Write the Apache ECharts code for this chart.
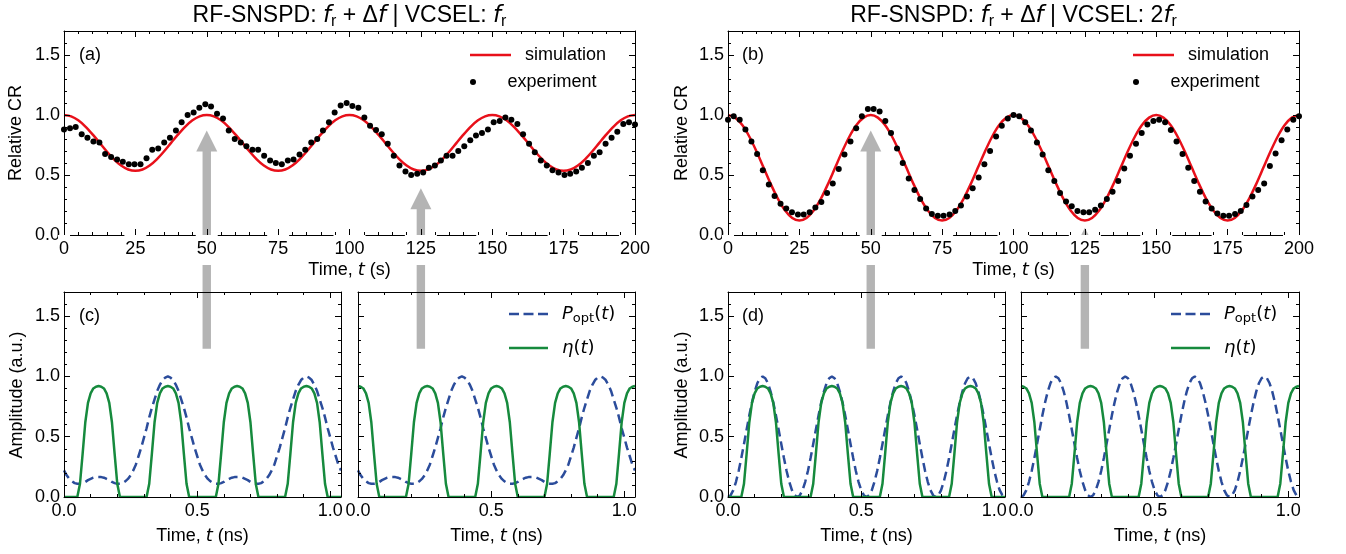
<!DOCTYPE html>
<html><head><meta charset="utf-8">
<script src="https://cdn.jsdelivr.net/npm/echarts@6/dist/echarts.min.js"></script>
<style>html,body{margin:0;padding:0;background:#fff}#c{width:1346px;height:554px}</style>
</head><body><div id="c"></div>
<script>
// ---------- DATA ----------
const simTime = [0,2.5,5,7.5,10,12.5,15,17.5,20,22.5,25,27.5,30,32.5,35,37.5,40,42.5,45,47.5,50,52.5,55,57.5,60,62.5,65,67.5,70,72.5,75,77.5,80,82.5,85,87.5,90,92.5,95,97.5,100,102.5,105,107.5,110,112.5,115,117.5,120,122.5,125,127.5,130,132.5,135,137.5,140,142.5,145,147.5,150,152.5,155,157.5,160,162.5,165,167.5,170,172.5,175,177.5,180,182.5,185,187.5,190,192.5,195,197.5,200];
const simA = [1.000,0.989,0.956,0.904,0.839,0.768,0.696,0.631,0.579,0.546,0.535,0.546,0.579,0.631,0.696,0.768,0.839,0.904,0.956,0.989,
1.000,0.989,0.956,0.904,0.839,0.768,0.696,0.631,0.579,0.546,0.535,0.546,0.579,0.631,0.696,0.768,0.839,0.904,0.956,0.989,
1.000,0.989,0.956,0.904,0.839,0.768,0.696,0.631,0.579,0.546,0.535,0.546,0.579,0.631,0.696,0.768,0.839,0.904,0.956,0.989,
1.000,0.989,0.956,0.904,0.839,0.768,0.696,0.631,0.579,0.546,0.535,0.546,0.579,0.631,0.696,0.768,0.839,0.904,0.956,0.989,1.000];
const simB = [1.000,0.978,0.916,0.819,0.696,0.560,0.424,0.301,0.204,0.142,0.120,0.142,0.204,0.301,0.424,0.560,0.696,0.819,0.916,0.978,
1.000,0.978,0.916,0.819,0.696,0.560,0.424,0.301,0.204,0.142,0.120,0.142,0.204,0.301,0.424,0.560,0.696,0.819,0.916,0.978,
1.000,0.978,0.916,0.819,0.696,0.560,0.424,0.301,0.204,0.142,0.120,0.142,0.204,0.301,0.424,0.560,0.696,0.819,0.916,0.978,
1.000,0.978,0.916,0.819,0.696,0.560,0.424,0.301,0.204,0.142,0.120,0.142,0.204,0.301,0.424,0.560,0.696,0.819,0.916,0.978,1.000];

const expTimeA = [0,2.1,4.1,6.2,8.2,10.3,12.4,14.4,16.5,18.6,20.6,22.7,24.7,26.8,28.9,30.9,33.0,35.1,37.1,39.2,41.2,43.3,45.4,47.4,49.5,51.5,53.6,55.7,57.7,59.8,61.9,63.9,66.0,68.0,70.1,72.2,74.2,76.3,78.4,80.4,82.5,84.5,86.6,88.7,90.7,92.8,94.8,96.9,99.0,101.0,103.1,105.2,107.2,109.3,111.3,113.4,115.5,117.5,119.6,121.6,123.7,125.8,127.8,129.9,132.0,134.0,136.1,138.1,140.2,142.3,144.3,146.4,148.5,150.5,152.6,154.6,156.7,158.8,160.8,162.9,164.9,167.0,169.1,171.1,173.2,175.3,177.3,179.4,181.4,183.5,185.6,187.6,189.7,191.8,193.8,195.9,197.9,200.0];
const expA = [0.88,0.89,0.90,0.84,0.81,0.78,0.77,0.675,0.65,0.63,0.61,0.59,0.59,0.59,0.64,0.71,0.72,0.77,0.81,0.87,
0.94,1.00,1.02,1.06,1.09,1.07,1.01,0.97,0.87,0.80,0.77,0.74,0.71,0.71,0.66,0.62,0.60,0.59,0.62,0.63,
0.67,0.71,0.77,0.80,0.87,0.94,1.02,1.08,1.10,1.075,1.06,0.98,0.91,0.875,
0.84,0.76,0.66,0.58,0.53,0.50,0.51,0.52,0.56,0.58,0.62,0.66,0.66,0.70,0.74,0.79,0.83,0.85,0.88,0.94,
0.95,0.98,0.96,0.925,0.84,0.76,0.69,0.62,0.58,0.54,0.52,0.50,0.51,0.53,0.56,0.60,0.66,0.69,0.76,0.81,
0.86,0.925,0.94,0.92];

const expTimeB = [0,2.0,4.1,6.1,8.2,10.2,12.2,14.3,16.3,18.4,20.4,22.4,24.5,26.5,28.6,30.6,32.7,34.7,36.7,38.8,40.8,42.9,44.9,46.9,49.0,51.0,53.1,55.1,57.1,59.2,61.2,63.3,65.3,67.3,69.4,71.4,73.5,75.5,77.6,79.6,81.6,83.7,85.7,87.8,89.8,91.8,93.9,95.9,98.0,100.0,102.0,104.1,106.1,108.2,110.2,112.2,114.3,116.3,118.4,120.4,122.4,124.5,126.5,128.6,130.6,132.7,134.7,136.7,138.8,140.8,142.9,144.9,146.9,149.0,151.0,153.1,155.1,157.1,159.2,161.2,163.3,165.3,167.3,169.4,171.4,173.5,175.5,177.6,179.6,181.6,183.7,185.7,187.8,189.8,191.8,193.9,195.9,198.0,200.0];
const expB = [0.96,0.99,0.96,0.88,0.78,0.675,0.54,0.42,0.325,0.26,0.22,0.19,0.17,0.17,0.19,0.23,0.275,0.35,0.43,0.55,
0.67,0.78,0.89,0.99,1.05,1.05,1.03,0.95,0.85,0.72,0.60,0.47,0.375,0.30,0.22,0.175,0.16,0.16,0.17,0.20,
0.245,0.32,0.39,0.48,0.59,0.70,0.82,0.91,0.97,1.00,0.99,0.94,
0.87,0.77,0.67,0.54,0.45,0.35,0.28,0.24,0.20,0.19,0.19,0.21,0.245,0.30,0.36,0.45,0.555,0.66,0.76,0.85,
0.92,0.95,0.96,0.94,0.875,0.78,0.675,0.56,0.45,0.36,0.28,0.22,0.18,0.16,0.16,0.175,0.20,0.25,0.32,0.375,
0.43,0.575,0.68,0.79,0.88,0.96,0.99];

const timeNs = [0,0.01,0.02,0.03,0.04,0.05,0.06,0.07,0.08,0.09,0.1,0.11,0.12,0.13,0.14,0.15,0.16,0.17,0.18,0.19,0.2,0.21,0.22,0.23,0.24,0.25,0.26,0.27,0.28,0.29,0.3,0.31,0.32,0.33,0.34,0.35,0.36,0.37,0.38,0.39,0.4,0.41,0.42,0.43,0.44,0.45,0.46,0.47,0.48,0.49,0.5,0.51,0.52,0.53,0.54,0.55,0.56,0.57,0.58,0.59,0.6,0.61,0.62,0.63,0.64,0.65,0.66,0.67,0.68,0.69,0.7,0.71,0.72,0.73,0.74,0.75,0.76,0.77,0.78,0.79,0.8,0.81,0.82,0.83,0.84,0.85,0.86,0.87,0.88,0.89,0.9,0.91,0.92,0.93,0.94,0.95,0.96,0.97,0.98,0.99,1,1.01,1.02,1.03,1.04];
// P_opt(t) with VCSEL at f_r (panel c)
const pOptC = [0.22,0.18,0.15,0.13,0.115,0.11,0.11,0.115,0.125,0.14,0.15,0.16,0.165,0.165,0.165,0.16,0.15,0.14,0.125,0.115,0.11,0.11,0.115,0.13,0.15,0.18,
0.22,0.27,0.34,0.41,0.49,0.57,0.66,0.74,0.81,0.88,0.93,0.97,0.99,1.0,0.99,0.97,0.93,0.88,0.81,0.74,0.66,0.57,0.49,0.41,0.34,0.27,
0.22,0.18,0.15,0.13,0.115,0.11,0.11,0.115,0.125,0.14,0.15,0.16,0.165,0.165,0.165,0.16,0.15,0.14,0.125,0.115,0.11,0.11,0.115,0.13,0.15,0.18,
0.22,0.27,0.34,0.41,0.49,0.57,0.66,0.74,0.81,0.88,0.93,0.97,0.99,1.0,0.99,0.97,0.93,0.88,0.81,0.74,0.66,0.57,0.49,0.41,0.34,0.27,0.22];
// P_opt(t) with VCSEL at 2 f_r (panel d)
const pOptD = [0,0.015,0.057,0.126,0.216,0.323,0.44,0.56,0.677,0.784,0.874,0.943,0.985,1.0,0.985,0.943,0.874,0.784,0.677,0.56,0.44,0.323,0.216,0.126,0.057,0.015,
0,0.015,0.057,0.126,0.216,0.323,0.44,0.56,0.677,0.784,0.874,0.943,0.985,1.0,0.985,0.943,0.874,0.784,0.677,0.56,0.44,0.323,0.216,0.126,0.057,0.015,
0,0.015,0.057,0.126,0.216,0.323,0.44,0.56,0.677,0.784,0.874,0.943,0.985,1.0,0.985,0.943,0.874,0.784,0.677,0.56,0.44,0.323,0.216,0.126,0.057,0.015,
0,0.015,0.057,0.126,0.216,0.323,0.44,0.56,0.677,0.784,0.874,0.943,0.985,1.0,0.985,0.943,0.874,0.784,0.677,0.56,0.44,0.323,0.216,0.126,0.057,0.015,0];
// eta(t), left sub-panels
const etaLeft = [0,0,0,0,0,0,0.11,0.36,0.62,0.78,0.86,0.90,0.915,0.92,0.915,0.90,0.86,0.78,0.62,0.36,0.11,0,0,0,0,0,
0,0,0,0,0,0,0.11,0.36,0.62,0.78,0.86,0.90,0.915,0.92,0.915,0.90,0.86,0.78,0.62,0.36,0.11,0,0,0,0,0,
0,0,0,0,0,0,0.11,0.36,0.62,0.78,0.86,0.90,0.915,0.92,0.915,0.90,0.86,0.78,0.62,0.36,0.11,0,0,0,0,0,
0,0,0,0,0,0,0.11,0.36,0.62,0.78,0.86,0.90,0.915,0.92,0.915,0.90,0.86,0.78,0.62,0.36,0.11,0,0,0,0,0,0];
// eta(t), right sub-panels
const etaRight = [0.92,0.915,0.90,0.86,0.78,0.62,0.36,0.11,0,0,0,0,0,0,0,0,0,0,0,0.11,0.36,0.62,0.78,0.86,0.90,0.915,
0.92,0.915,0.90,0.86,0.78,0.62,0.36,0.11,0,0,0,0,0,0,0,0,0,0,0,0.11,0.36,0.62,0.78,0.86,0.90,0.915,
0.92,0.915,0.90,0.86,0.78,0.62,0.36,0.11,0,0,0,0,0,0,0,0,0,0,0,0.11,0.36,0.62,0.78,0.86,0.90,0.915,
0.92,0.915,0.90,0.86,0.78,0.62,0.36,0.11,0,0,0,0,0,0,0,0,0,0,0,0.11,0.36,0.62,0.78,0.86,0.90,0.915,0.92];

// arrows (data coordinates)
const arrowTimes = [50, 125];
const arrowTipA = [0.87, 0.39];
const arrowTipB = [0.87, 0.06];
const arrowTailAmp = 1.23;

// ---------- STYLE ----------
const FONT = '"Liberation Sans", Arial, sans-serif';
const MATH = '"DejaVu Sans", sans-serif';
const RED = '#e8101a', BLUE = '#2b4c9b', GREEN = '#168a3d', ARROW = '#b4b4b4';

const grids = [
  {left:64, top:31, width:571, height:204},
  {left:728, top:31, width:571, height:204},
  {left:64, top:292, width:277, height:205},
  {left:358, top:292, width:277, height:205},
  {left:728, top:292, width:277, height:205},
  {left:1021, top:292, width:278, height:205}
];
const half = v => Math.abs(v * 2 - Math.round(v * 2)) < 1e-6 ? v.toFixed(1) : '';
const quarter = v => (Math.abs(v / 25 - Math.round(v / 25)) < 1e-6 ? String(Math.round(v)) : '');

const xAxes = [], yAxes = [];
function addAxes(gi, xs, ys) {
  const xi = xAxes.length, yi = yAxes.length;
  ['bottom', 'top'].forEach(pos => {
    const lbl = {show: pos === 'bottom', margin: 5, color: '#000', fontSize: 18, fontFamily: FONT, formatter: xs.fmt};
    if (xs.bg) { lbl.margin = 0; lbl.backgroundColor = '#fff'; lbl.padding = [5, 1, 7, 1]; }
    xAxes.push({gridIndex: gi, type: 'value', position: pos, min: xs.min, max: xs.max, interval: xs.major, z: 10,
      axisLine: {show: true, onZero: false, lineStyle: {color: '#000', width: 1}},
      axisTick: {show: true, inside: true, length: 6, lineStyle: {color: '#000', width: 1}},
      axisLabel: lbl, splitLine: {show: false}});
    xAxes.push({gridIndex: gi, type: 'value', position: pos, min: xs.min, max: xs.max, interval: xs.minor, z: 10,
      axisLine: {show: false, onZero: false},
      axisTick: {show: true, inside: true, length: 3, lineStyle: {color: '#000', width: 1}},
      axisLabel: {show: false}, splitLine: {show: false}});
  });
  ['left', 'right'].forEach(pos => {
    yAxes.push({gridIndex: gi, type: 'value', position: pos, min: ys.min, max: ys.max, interval: ys.major, z: 10,
      axisLine: {show: true, onZero: false, lineStyle: {color: '#000', width: 1}},
      axisTick: {show: true, inside: true, length: 6, lineStyle: {color: '#000', width: 1}},
      axisLabel: {show: pos === 'left' && ys.labels, margin: 4, color: '#000', fontSize: 18, fontFamily: FONT, formatter: half},
      splitLine: {show: false}});
    yAxes.push({gridIndex: gi, type: 'value', position: pos, min: ys.min, max: ys.max, interval: ys.minor, z: 10,
      axisLine: {show: false, onZero: false},
      axisTick: {show: true, inside: true, length: 3, lineStyle: {color: '#000', width: 1}},
      axisLabel: {show: false}, splitLine: {show: false}});
  });
  return {x: xi, y: yi};
}
const xsTop = {min: 0, max: 200, major: 25, minor: 5, fmt: quarter, bg: true};
const xsBot = {min: 0, max: 1.04, major: 0.5, minor: 0.1, fmt: half};
const ysAll = {min: 0, max: 1.7, major: 0.5, minor: 0.1, labels: true};
const ysNo = {min: 0, max: 1.7, major: 0.5, minor: 0.1, labels: false};
const AX = [
  addAxes(0, xsTop, ysAll), addAxes(1, xsTop, ysAll),
  addAxes(2, xsBot, ysAll), addAxes(3, xsBot, ysNo),
  addAxes(4, xsBot, ysAll), addAxes(5, xsBot, ysNo)
];
const pair = (xs, ys) => xs.map((t, i) => [t, ys[i]]);

const series = [];
[[0, simA, expTimeA, expA], [1, simB, expTimeB, expB]].forEach(([g, sim, et, ev]) => {
  series.push({type: 'line', name: 'simulation', xAxisIndex: AX[g].x, yAxisIndex: AX[g].y,
    data: pair(simTime, sim), symbol: 'none', smooth: 0.3, lineStyle: {color: RED, width: 2.5}, itemStyle: {color: RED}, z: 2});
  series.push({type: 'scatter', name: 'experiment', xAxisIndex: AX[g].x, yAxisIndex: AX[g].y,
    data: pair(et, ev), symbol: 'circle', symbolSize: 6, itemStyle: {color: '#000', opacity: 1}, z: 3});
});
[[2, pOptC, etaLeft], [3, pOptC, etaRight], [4, pOptD, etaLeft], [5, pOptD, etaRight]].forEach(([g, p, e]) => {
  series.push({type: 'line', name: 'P_opt', xAxisIndex: AX[g].x, yAxisIndex: AX[g].y,
    data: pair(timeNs, p), symbol: 'none', lineStyle: {color: BLUE, width: 2.5, type: [9, 5]}, itemStyle: {color: BLUE}, z: 2});
  series.push({type: 'line', name: 'eta', xAxisIndex: AX[g].x, yAxisIndex: AX[g].y,
    data: pair(timeNs, e), symbol: 'none', lineStyle: {color: GREEN, width: 2.5}, itemStyle: {color: GREEN}, z: 3});
});

const legTxt = {color: '#000', fontSize: 18, fontFamily: FONT, padding: [0, 0, 0, 9],
  rich: {
    i: {fontFamily: MATH, fontStyle: 'italic', fontSize: 18},
    n: {fontFamily: MATH, fontSize: 18},
    s: {fontFamily: MATH, fontSize: 13, padding: [9, 0, 0, 0]}
  }};
const legFmt = name => name === 'P_opt' ? '{i|P}{s|opt}{n|(}{i|t}{n|)}' : (name === 'eta' ? '{i|η}{n|(}{i|t}{n|)}' : name);
const DASH_ICON = 'path://M0,0h10v2.57h-10z M14.5,0h10v2.57h-10z M29,0h10v2.57h-10z';
function mkLegend(left, top, name, icon, w, h) {
  return {left: left, top: top, padding: 0, orient: 'vertical', itemWidth: w, itemHeight: h,
    data: [{name: name, icon: icon}], textStyle: legTxt, formatter: legFmt, selectedMode: false};
}
const legends = [
  mkLegend(470, 46, 'simulation', 'rect', 41, 2.5),
  mkLegend(470, 73, 'experiment', 'circle', 41, 6),
  mkLegend(1133, 46, 'simulation', 'rect', 41, 2.5),
  mkLegend(1133, 73, 'experiment', 'circle', 41, 6),
  mkLegend(509, 305, 'P_opt', DASH_ICON, 39, 2.57),
  mkLegend(509, 339, 'eta', 'rect', 39, 2.5),
  mkLegend(1171, 305, 'P_opt', DASH_ICON, 39, 2.57),
  mkLegend(1171, 339, 'eta', 'rect', 39, 2.5)
];

function txt(x, y, text, size, opts) {
  opts = opts || {};
  const rich = {
    n: {fontFamily: FONT, fontSize: size, fill: '#000'},
    i: {fontFamily: MATH, fontStyle: 'italic', fontSize: size, fill: '#000'},
    s: {fontFamily: FONT, fontSize: Math.round(size * 0.7), fill: '#000', padding: [Math.round(size * 0.5), 0, 0, 0]}
  };
  return {type: 'text', x: x, y: y, rotation: opts.rot || 0, z: 50,
    style: {text: text, rich: rich, fontSize: size, fontFamily: FONT, fill: '#000',
      textAlign: opts.align || 'center', textVerticalAlign: 'middle'}};
}
const titleTxt = v => '{n|RF-SNSPD: }{i|f}{s|r}{n| + Δ}{i|f}{n| | VCSEL: ' + v + '}{i|f}{s|r}';
const graphics = [
  txt(349.5, 16, titleTxt(''), 23),
  txt(1013.5, 16, titleTxt('2'), 23),
  txt(16, 133, '{n|Relative CR}', 18, {rot: Math.PI / 2}),
  txt(682, 133, '{n|Relative CR}', 18, {rot: Math.PI / 2}),
  txt(17, 395, '{n|Amplitude (a.u.)}', 18, {rot: Math.PI / 2}),
  txt(682, 395, '{n|Amplitude (a.u.)}', 18, {rot: Math.PI / 2}),
  txt(349.5, 270, '{n|Time, }{i|t}{n| (s)}', 18),
  txt(1013.5, 270, '{n|Time, }{i|t}{n| (s)}', 18),
  txt(202.5, 536, '{n|Time, }{i|t}{n| (ns)}', 18),
  txt(496.5, 536, '{n|Time, }{i|t}{n| (ns)}', 18),
  txt(866.5, 536, '{n|Time, }{i|t}{n| (ns)}', 18),
  txt(1160, 536, '{n|Time, }{i|t}{n| (ns)}', 18),
  txt(79, 55, '{n|(a)}', 18, {align: 'left'}),
  txt(742, 55, '{n|(b)}', 18, {align: 'left'}),
  txt(79, 316, '{n|(c)}', 18, {align: 'left'}),
  txt(742, 316, '{n|(d)}', 18, {align: 'left'})
];

const chart = echarts.init(document.getElementById('c'), null, {renderer: 'canvas'});
chart.setOption({
  animation: false,
  backgroundColor: '#fff',
  grid: grids,
  xAxis: xAxes,
  yAxis: yAxes,
  legend: legends,
  series: series,
  graphic: graphics
});

// arrows placed through the axes' own scales
function arrowShape(topAx, botAx, t, tip) {
  const pTip = chart.convertToPixel({xAxisIndex: topAx.x, yAxisIndex: topAx.y}, [t, tip]);
  const pTail = chart.convertToPixel({xAxisIndex: botAx.x, yAxisIndex: botAx.y}, [0, arrowTailAmp]);
  const x = pTip[0], y0 = pTip[1], y1 = pTail[1];
  const hw = 10.5, hl = 21, sw = 4.2;
  return {type: 'polygon', z: 5, silent: true,
    shape: {points: [[x, y0], [x + hw, y0 + hl], [x + sw, y0 + hl], [x + sw, y1], [x - sw, y1], [x - sw, y0 + hl], [x - hw, y0 + hl]]},
    style: {fill: ARROW}};
}
const arrows = [];
arrowTimes.forEach((t, k) => {
  arrows.push(arrowShape(AX[0], AX[2], t, arrowTipA[k]));
  arrows.push(arrowShape(AX[1], AX[4], t, arrowTipB[k]));
});
chart.setOption({graphic: graphics.concat(arrows)});
</script></body></html>
